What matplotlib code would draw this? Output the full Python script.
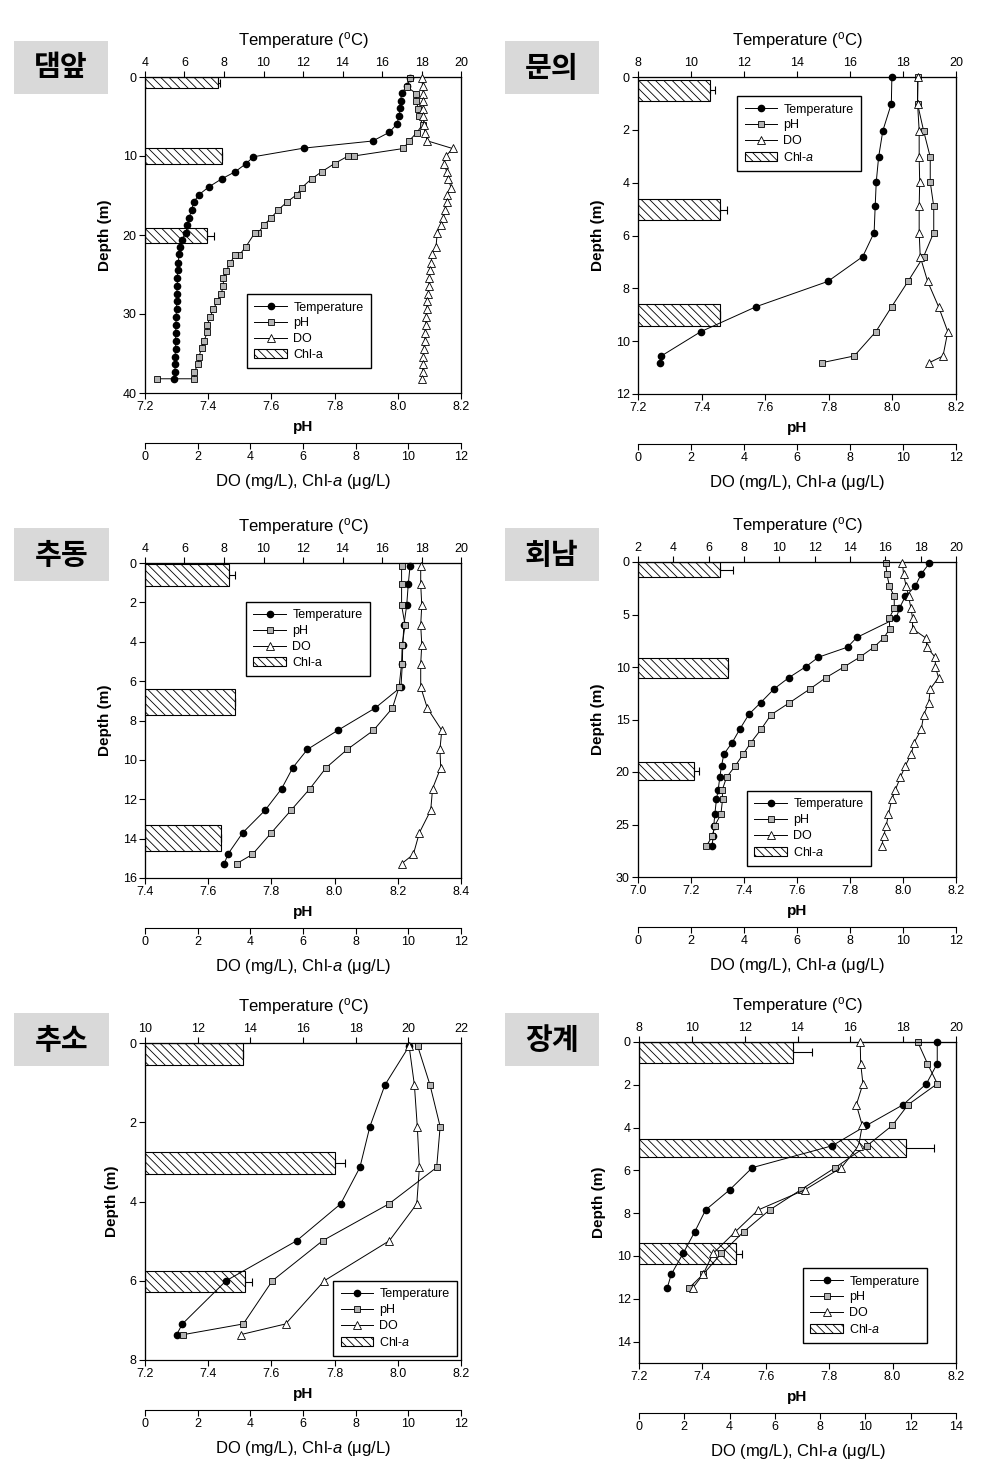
import numpy as np
import matplotlib
matplotlib.use('Agg')
import matplotlib.pyplot as plt
from matplotlib.patches import Rectangle
from matplotlib.ticker import FormatStrFormatter

plt.rcParams['font.family'] = ['Liberation Sans', 'DejaVu Sans']
plt.rcParams['mathtext.fontset'] = 'custom'
plt.rcParams['mathtext.rm'] = 'Liberation Sans'
plt.rcParams['mathtext.it'] = 'Liberation Sans:italic'
plt.rcParams['mathtext.bf'] = 'Liberation Sans:bold'
plt.rcParams['hatch.linewidth'] = 0.6

# ---- 댐앞 ----
dam_t_depth = [0.1, 1.2, 2.0, 3.0, 3.9, 4.9, 6.0, 7.0, 8.1, 9.0, 10.1, 11.0, 12.0, 12.9, 13.9,
               14.9, 15.8, 16.8, 17.8, 18.7, 19.7, 20.6, 21.5, 22.4, 23.5, 24.4, 25.5, 26.5,
               27.5, 28.4, 29.4, 30.4, 31.4, 32.4, 33.4, 34.4, 35.4, 36.3, 37.3, 38.2]
dam_temp = [17.4, 17.25, 17.0, 16.94, 16.91, 16.88, 16.74, 16.37, 15.53, 12.05, 9.49, 9.10,
            8.56, 7.88, 7.24, 6.73, 6.48, 6.36, 6.24, 6.14, 6.08, 5.86, 5.77, 5.72, 5.69, 5.65,
            5.64, 5.64, 5.60, 5.60, 5.60, 5.57, 5.57, 5.55, 5.55, 5.55, 5.52, 5.52, 5.52, 5.47]
dam_ph_depth = [0.13, 1.26, 2.1, 3.07, 4.0, 4.93, 6.02, 7.03, 8.08, 9.05, 10.0, 10.0, 10.95,
                12.0, 12.9, 14.0, 14.9, 15.8, 16.8, 17.8, 18.7, 19.7, 19.7, 21.5, 22.5, 22.5,
                23.6, 24.6, 25.5, 26.5, 27.5, 28.4, 29.4, 30.4, 31.4, 32.3, 33.4, 34.3, 35.4,
                36.3, 37.3, 38.2, 38.2]
dam_ph = [8.039, 8.030, 8.058, 8.058, 8.065, 8.067, 8.079, 8.060, 8.036, 8.018, 7.861, 7.843,
          7.80, 7.759, 7.727, 7.696, 7.68, 7.65, 7.622, 7.60, 7.577, 7.559, 7.548, 7.519, 7.499,
          7.485, 7.469, 7.456, 7.448, 7.448, 7.44, 7.429, 7.416, 7.406, 7.397, 7.397, 7.387,
          7.379, 7.371, 7.369, 7.356, 7.356, 7.237]
dam_do_depth = [0.13, 1.1, 2.1, 3.07, 4.0, 4.93, 6.02, 7.03, 8.08, 9.05, 10.0, 10.95, 12.0,
                12.9, 14.0, 14.9, 15.8, 16.8, 17.8, 18.7, 19.7, 21.5, 22.4, 23.5, 24.4, 25.5,
                26.5, 27.5, 28.4, 29.4, 30.4, 31.4, 32.4, 33.4, 34.4, 35.4, 36.3, 37.3, 38.2]
dam_do = [10.51, 10.54, 10.57, 10.57, 10.57, 10.57, 10.59, 10.63, 10.72, 11.68, 11.43, 11.35,
          11.46, 11.52, 11.62, 11.48, 11.46, 11.39, 11.33, 11.23, 11.10, 11.05, 10.91, 10.86,
          10.82, 10.80, 10.78, 10.76, 10.72, 10.70, 10.67, 10.66, 10.63, 10.63, 10.59, 10.57,
          10.57, 10.54, 10.53]
dam_chl_depth = [0.7, 10.05, 20.1]
dam_chl = [2.78, 2.91, 2.37]
dam_chl_err = [0.07, 0.0, 0.26]

# ---- 문의 ----
munui_depth = [0.0, 1.01, 2.03, 3.03, 3.98, 4.9, 5.89, 6.8, 7.74, 8.69, 9.64, 10.56, 10.81]
munui_temp = [17.58, 17.56, 17.24, 17.08, 16.99, 16.95, 16.91, 16.48, 15.16, 12.47, 10.37, 8.88, 8.82]
munui_ph = [8.08, 8.079, 8.098, 8.119, 8.119, 8.13, 8.13, 8.098, 8.049, 7.998, 7.948, 7.88, 7.78]
munui_do = [10.56, 10.55, 10.61, 10.61, 10.63, 10.61, 10.61, 10.65, 10.93, 11.34, 11.69, 11.51, 11.0]
munui_chl_depth = [0.51, 5.02, 9.01]
munui_chl = [2.71, 3.11, 3.11]
munui_chl_err = [0.19, 0.25, 0.0]

# ---- 추동 ----
chudong_depth = [0.15, 1.08, 2.15, 3.15, 4.15, 5.12, 6.3, 7.37, 8.5, 9.47, 10.4, 11.46, 12.56,
                 13.7, 14.8, 15.27]
chudong_temp = [17.42, 17.33, 17.25, 17.11, 17.05, 17.03, 16.96, 15.65, 13.76, 12.22, 11.48,
                10.92, 10.08, 8.95, 8.19, 8.02]
chudong_ph = [8.212, 8.212, 8.212, 8.223, 8.214, 8.212, 8.204, 8.183, 8.123, 8.04, 7.973,
              7.922, 7.862, 7.80, 7.74, 7.69]
chudong_do = [10.47, 10.47, 10.51, 10.47, 10.51, 10.47, 10.47, 10.72, 11.27, 11.2, 11.23,
              10.92, 10.85, 10.42, 10.19, 9.75]
chudong_chl_depth = [0.6, 7.04, 13.98]
chudong_chl = [3.2, 3.42, 2.89]
chudong_chl_err = [0.22, 0.0, 0.0]

# ---- 회남 ----
hoenam_t_depth = [0.1, 1.15, 2.32, 3.28, 4.39, 5.35, 7.19, 8.11, 9.07, 9.96, 11.0, 12.09, 13.4,
                  14.5, 15.9, 17.2, 18.3, 19.4, 20.5, 21.7, 22.6, 24.0, 25.1, 26.1, 27.0]
hoenam_temp = [18.5, 18.03, 17.69, 17.13, 16.8, 16.62, 14.38, 13.86, 12.21, 11.51, 10.55, 9.7,
               8.94, 8.28, 7.77, 7.33, 6.86, 6.73, 6.63, 6.54, 6.44, 6.35, 6.29, 6.25, 6.2]
hoenam_depth = [0.1, 1.15, 2.32, 3.28, 4.4, 5.35, 6.36, 7.25, 8.13, 9.08, 9.98, 11.0, 12.09,
                13.43, 14.55, 15.95, 17.2, 18.3, 19.45, 20.52, 21.7, 22.6, 24.0, 25.1, 26.1, 27.05]
hoenam_ph = [7.935, 7.939, 7.949, 7.967, 7.967, 7.948, 7.95, 7.927, 7.889, 7.836, 7.778, 7.71,
             7.649, 7.57, 7.502, 7.464, 7.426, 7.397, 7.366, 7.334, 7.318, 7.319, 7.313, 7.29,
             7.281, 7.258]
hoenam_do = [9.98, 10.02, 10.12, 10.21, 10.3, 10.36, 10.36, 10.87, 10.9, 11.22, 11.22, 11.34,
             11.03, 10.97, 10.78, 10.69, 10.42, 10.31, 10.08, 9.9, 9.71, 9.58, 9.45, 9.37, 9.27, 9.2]
hoenam_chl_depth = [0.73, 10.1, 19.9]
hoenam_chl = [3.11, 3.4, 2.12]
hoenam_chl_err = [0.48, 0.0, 0.19]

# ---- 추소 ----
chuso_depth = [0.08, 1.06, 2.11, 3.14, 4.06, 4.99, 6.0, 7.09, 7.36]
chuso_temp = [20.03, 19.11, 18.54, 18.16, 17.43, 15.76, 13.08, 11.42, 11.2]
chuso_ph = [8.063, 8.102, 8.134, 8.123, 7.972, 7.762, 7.603, 7.511, 7.321]
chuso_do = [10.03, 10.23, 10.34, 10.42, 10.32, 9.28, 6.81, 5.34, 3.63]
chuso_chl_depth = [0.28, 3.02, 6.02]
chuso_chl = [3.73, 7.22, 3.8]
chuso_chl_err = [0.0, 0.38, 0.25]

# ---- 장계 ----
janggye_depth = [0.02, 1.01, 1.95, 2.93, 3.9, 4.85, 5.87, 6.91, 7.85, 8.87, 9.88, 10.86, 11.49]
janggye_temp = [19.29, 19.29, 18.88, 18.0, 16.61, 15.31, 12.29, 11.43, 10.52, 10.11, 9.67, 9.22, 9.07]
janggye_ph = [8.08, 8.11, 8.141, 8.049, 7.999, 7.919, 7.819, 7.71, 7.612, 7.53, 7.46, 7.402, 7.358]
janggye_do = [9.77, 9.79, 9.89, 9.6, 9.86, 9.7, 8.94, 7.32, 5.26, 4.25, 3.27, 2.83, 2.38]
janggye_chl_depth = [0.49, 4.96, 9.9]
janggye_chl = [6.8, 11.81, 4.3]
janggye_chl_err = [0.84, 1.22, 0.26]

W, H = 995, 1481
fig = plt.figure(figsize=(W / 100, H / 100), dpi=100)


def px_rect(x0, y0, x1, y1):
    return [x0 / W, 1 - y1 / H, (x1 - x0) / W, (y1 - y0) / H]


panels = [
    dict(name='댐앞', box=(145, 77, 461, 393), tag=(14, 41, 108, 94),
         t_depth=dam_t_depth, temp=dam_temp, ph_depth=dam_ph_depth, ph=dam_ph,
         do_depth=dam_do_depth, do=dam_do, chl_depth=dam_chl_depth, chl=dam_chl,
         chl_err=dam_chl_err, chl_h=[1.4, 2.0, 1.85], trange=(4, 20), phrange=(7.2, 8.2),
         dorange=12, dmax=40, dstep=10, leg=(247, 294), italic=False),
    dict(name='문의', box=(638, 77, 956, 394), tag=(505, 41, 599, 94),
         t_depth=munui_depth, temp=munui_temp, ph_depth=munui_depth, ph=munui_ph,
         do_depth=munui_depth, do=munui_do, chl_depth=munui_chl_depth, chl=munui_chl,
         chl_err=munui_chl_err, chl_h=[0.82] * 3, trange=(8, 20), phrange=(7.2, 8.2),
         dorange=12, dmax=12, dstep=2, leg=(737, 96), italic=True),
    dict(name='추동', box=(145, 563, 461, 878), tag=(14, 528, 109, 581),
         t_depth=chudong_depth, temp=chudong_temp, ph_depth=chudong_depth, ph=chudong_ph,
         do_depth=chudong_depth, do=chudong_do, chl_depth=chudong_chl_depth, chl=chudong_chl,
         chl_err=chudong_chl_err, chl_h=[1.14, 1.32, 1.3], trange=(4, 20), phrange=(7.4, 8.4),
         dorange=12, dmax=16, dstep=2, leg=(246, 602), italic=False),
    dict(name='회남', box=(638, 562, 956, 877), tag=(505, 528, 599, 581),
         t_depth=hoenam_t_depth, temp=hoenam_temp, ph_depth=hoenam_depth, ph=hoenam_ph,
         do_depth=hoenam_depth, do=hoenam_do, chl_depth=hoenam_chl_depth, chl=hoenam_chl,
         chl_err=hoenam_chl_err, chl_h=[1.46, 1.9, 1.8], trange=(2, 20), phrange=(7.0, 8.2),
         dorange=12, dmax=30, dstep=5, leg=(747, 791), italic=True),
    dict(name='추소', box=(145, 1043, 461, 1360), tag=(14, 1013, 109, 1066),
         t_depth=chuso_depth, temp=chuso_temp, ph_depth=chuso_depth, ph=chuso_ph,
         do_depth=chuso_depth, do=chuso_do, chl_depth=chuso_chl_depth, chl=chuso_chl,
         chl_err=chuso_chl_err, chl_h=[0.56, 0.55, 0.55], trange=(10, 22), phrange=(7.2, 8.2),
         dorange=12, dmax=8, dstep=2, leg=(333, 1281), italic=True),
    dict(name='장계', box=(639, 1042, 956, 1363), tag=(505, 1013, 599, 1066),
         t_depth=janggye_depth, temp=janggye_temp, ph_depth=janggye_depth, ph=janggye_ph,
         do_depth=janggye_depth, do=janggye_do, chl_depth=janggye_chl_depth, chl=janggye_chl,
         chl_err=janggye_chl_err, chl_h=[0.98, 0.87, 0.98], trange=(8, 20), phrange=(7.2, 8.2),
         dorange=14, dmax=15, dstep=2, leg=(803, 1268), italic=True),
]

TICK = dict(direction='out', length=4, width=0.8, labelsize=9, pad=2)


def draw_panel(p):
    ax = fig.add_axes(px_rect(*p['box']))      # Chl-a bars + DO scale (bottom, offset)
    ax_t = ax.twiny()                         # temperature (top)
    ax_ph = ax.twiny()                        # pH (bottom)
    ax_do = ax.twiny()                        # DO markers on top of everything

    n = len(p['chl'])
    bars = ax.barh(p['chl_depth'], p['chl'], height=p['chl_h'], color='white',
                   edgecolor='black', linewidth=0.8, hatch='\\\\\\\\',
                   xerr=[np.zeros(n), p['chl_err']],
                   error_kw=dict(capsize=3, elinewidth=0.8, capthick=0.8, ecolor='black'))

    lt, = ax_t.plot(p['temp'], p['t_depth'], '-o', color='black', mfc='black', mec='black',
                    ms=4.5, lw=0.7, clip_on=False)
    lp, = ax_ph.plot(p['ph'], p['ph_depth'], '-s', color='black', mfc='#b4b4b4', mec='black',
                     mew=0.6, ms=5, lw=0.7, clip_on=False)
    ld, = ax_do.plot(p['do'], p['do_depth'], '-^', color='black', mfc='white', mec='black',
                     mew=0.6, ms=6, lw=0.7, clip_on=False)

    ax.set_xlim(0, p['dorange'])
    ax_do.set_xlim(0, p['dorange'])
    ax_t.set_xlim(*p['trange'])
    ax_ph.set_xlim(*p['phrange'])
    ax.set_ylim(p['dmax'], 0)
    ax.set_yticks(np.arange(0, p['dmax'] + 0.1, p['dstep']))

    ax.spines['bottom'].set_position(('outward', 36))
    ax.set_xticks(np.arange(0, p['dorange'] + 0.1, 2))
    ax.set_xlabel('DO (mg/L), Chl-$\\it{a}$ (μg/L)', fontsize=12, labelpad=6)
    ax.set_ylabel('Depth (m)', fontsize=11, fontweight='bold', labelpad=8)
    ax.tick_params(axis='both', **TICK)

    ax_t.set_xticks(np.arange(p['trange'][0], p['trange'][1] + 0.1, 2))
    ax_t.set_xlabel('Temperature ($^{\\rm o}$C)', fontsize=12, labelpad=8)
    ax_t.tick_params(axis='x', **TICK)

    ax_ph.xaxis.tick_bottom()
    ax_ph.xaxis.set_label_position('bottom')
    ax_ph.set_xticks(np.arange(p['phrange'][0], p['phrange'][1] + 0.01, 0.2))
    ax_ph.xaxis.set_major_formatter(FormatStrFormatter('%.1f'))
    ax_ph.set_xlabel('pH', fontsize=11, fontweight='bold', labelpad=5)
    ax_ph.tick_params(axis='x', **TICK)

    ax_do.xaxis.set_visible(False)
    for s in ax_do.spines.values():
        s.set_visible(False)
    for a in (ax, ax_t, ax_ph):
        for s in a.spines.values():
            s.set_linewidth(0.8)

    chl_label = 'Chl-$\\it{a}$' if p['italic'] else 'Chl-a'
    lx, ly = p['leg']
    ax_do.legend([lt, lp, ld, bars], ['Temperature', 'pH', 'DO', chl_label],
                 loc='upper left', bbox_to_anchor=(lx / W, 1 - ly / H),
                 bbox_transform=fig.transFigure, fontsize=9, frameon=True, fancybox=False,
                 edgecolor='black', framealpha=1, borderpad=0.6, labelspacing=0.3,
                 handlelength=2.6, handletextpad=0.5, borderaxespad=0)

    # site name tag
    x0, y0, x1, y1 = p['tag']
    fig.patches.append(Rectangle((x0 / W, 1 - y1 / H), (x1 - x0) / W, (y1 - y0) / H,
                                 transform=fig.transFigure, facecolor='#d9d9d9',
                                 edgecolor='none'))
    fig.text((x0 + x1) / 2 / W, 1 - (y0 + y1) / 2 / H, p['name'], ha='center', va='center',
             fontsize=21, fontweight='bold', family=['Noto Sans CJK KR', 'DejaVu Sans'])


for p in panels:
    draw_panel(p)

fig.savefig('out.png', dpi=100)
